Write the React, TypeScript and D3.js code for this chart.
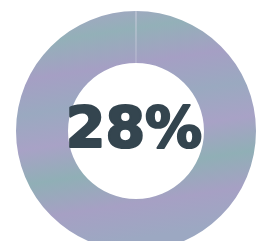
import { useEffect, useRef } from "react";
import * as d3 from "d3";

// share shown in the middle of the donut
const shareValue = [28];
const shareLabel = ["28%"];

// the printed ring shows soft lavender / teal bands
const bandColors = ["#a9a3c6", "#93b0b8", "#a59fc4", "#9aa9c0", "#a8a2c6", "#90afb6", "#a6a0c4", "#9ca8c2"];

export default function App() {
    const ref = useRef<SVGSVGElement>(null);

    const width = 264,
        height = 241;

    useEffect(() => {
        const svg = d3.select(ref.current);
        svg.selectAll("*").remove();

        const grad = svg.append("defs")
            .append("linearGradient")
            .attr("id", "ringBands")
            .attr("x1", 0).attr("y1", 0)
            .attr("x2", 0.15).attr("y2", 1);
        bandColors.forEach((c, i) => {
            grad.append("stop")
                .attr("offset", i / (bandColors.length - 1))
                .attr("stop-color", c);
        });

        const g = svg.append("g").attr("transform", "translate(136,131)");

        // full ring, the scan shows it as one colour
        const angle = d3.scaleLinear().domain([0, 100]).range([0, 2 * Math.PI]);
        const arc = d3.arc<any>().innerRadius(68).outerRadius(120);

        g.append("path")
            .attr("d", arc({ startAngle: angle(0), endAngle: angle(100) }))
            .attr("fill", "url(#ringBands)");

        // faint seam at the top where the segment starts
        g.append("path")
            .attr("d", arc({ startAngle: angle(0) - 0.004, endAngle: angle(0) + 0.004 }))
            .attr("fill", "#cfd1e0");

        g.append("text")
            .attr("x", -2)
            .attr("y", 17)
            .attr("text-anchor", "middle")
            .attr("font-family", "DejaVu Sans")
            .attr("font-weight", "bold")
            .attr("font-size", 57)
            .attr("fill", "#34454f")
            .attr("stroke", "#34454f")
            .attr("stroke-width", 2.2)
            .attr("stroke-linejoin", "round")
            .attr("data-value", shareValue[0])
            .text(shareLabel[0]);
    }, []);

    return (
        <svg
            ref={ref}
            width={width}
            height={height}
            style={{ position: "absolute", left: 0, top: 0, background: "#fff" }}
        />
    );
}
